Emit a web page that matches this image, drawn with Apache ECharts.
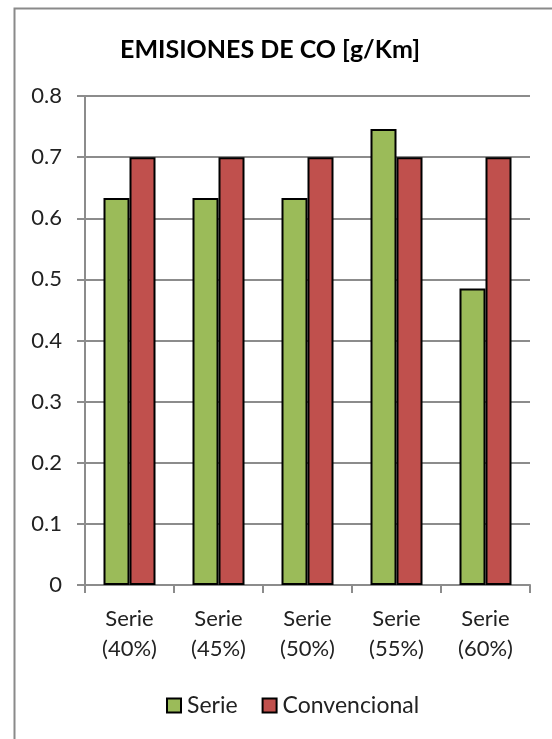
<!DOCTYPE html>
<html>
<head>
<meta charset="utf-8">
<script src="https://cdn.jsdelivr.net/npm/echarts@6/dist/echarts.min.js"></script>
<style>
html,body{margin:0;padding:0;background:#fff;}
#c{width:552px;height:739px;}
</style>
</head>
<body>
<div id="c"></div>
<script>
var categories = ['Serie\n(40%)', 'Serie\n(45%)', 'Serie\n(50%)', 'Serie\n(55%)', 'Serie\n(60%)'];
var serieValues = [0.633, 0.633, 0.633, 0.746, 0.485];
var convencionalValues = [0.7, 0.7, 0.7, 0.7, 0.7];
var yTicks = [0, 0.1, 0.2, 0.3, 0.4, 0.5, 0.6, 0.7, 0.8];

var FONT = 'Lato';
var chart = echarts.init(document.getElementById('c'), null, {renderer: 'canvas'});
chart.setOption({
  backgroundColor: '#ffffff',
  animation: false,
  title: {
    text: 'EMISIONES DE CO [g/Km]',
    left: 265, top: 32, textAlign: 'center',
    textStyle: {fontFamily: FONT, fontWeight: 'bold', fontSize: 25, color: '#000'}
  },
  graphic: [{
    type: 'rect', left: 12, top: 6, silent: true,
    shape: {x: 0, y: 0, width: 600, height: 800},
    style: {fill: 'none', stroke: '#8a8a8a', lineWidth: 2}
  }],
  legend: {
    data: ['Serie', 'Convencional'],
    left: 161, top: 689,
    itemWidth: 14, itemHeight: 14, itemGap: 24,
    textStyle: {fontFamily: FONT, fontSize: 23, color: '#222', padding: [0, 0, 0, 1]},
    icon: 'rect'
  },
  grid: {left: 85, right: 22, top: 96, bottom: 154, containLabel: false},
  xAxis: {
    type: 'category', data: categories,
    axisLine: {lineStyle: {color: '#8c8c8c', width: 2}},
    axisTick: {show: true, length: 8, lineStyle: {color: '#8c8c8c', width: 2}},
    axisLabel: {fontFamily: FONT, fontSize: 22, color: '#222', lineHeight: 30, margin: 19}
  },
  yAxis: {
    type: 'value', min: 0, max: 0.8, interval: 0.1,
    axisLine: {show: true, lineStyle: {color: '#8c8c8c', width: 2}},
    axisTick: {show: true, length: 8, lineStyle: {color: '#8c8c8c', width: 2}},
    splitLine: {lineStyle: {color: '#8c8c8c', width: 2}},
    axisLabel: {fontFamily: FONT, fontSize: 22, color: '#222', margin: 23,
      formatter: function (v) { return yTicks.indexOf(Math.round(v * 10) / 10) >= 0 ? (v === 0 ? '0' : v.toFixed(1)) : ''; }}
  },
  series: [{
    name: 'Serie', type: 'bar', data: serieValues,
    barWidth: 26, barGap: '0%',
    itemStyle: {color: '#9BBB59', borderColor: '#000', borderWidth: 2}
  }, {
    name: 'Convencional', type: 'bar', data: convencionalValues,
    barWidth: 26,
    itemStyle: {color: '#C0504D', borderColor: '#000', borderWidth: 2}
  }]
});
</script>
</body>
</html>
